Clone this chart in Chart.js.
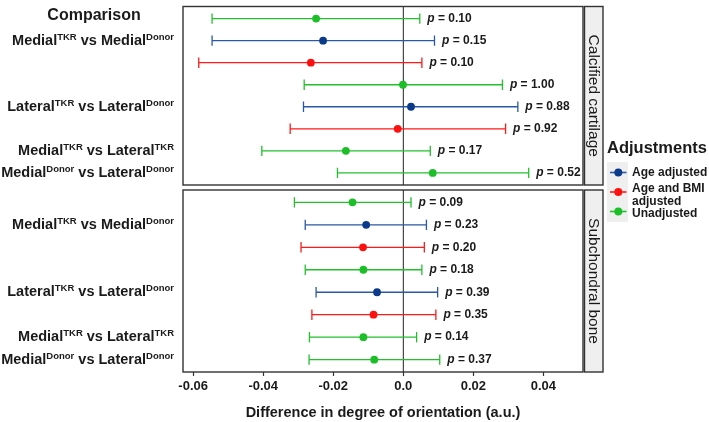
<!DOCTYPE html>
<html><head><meta charset="utf-8">
<script src="https://cdn.jsdelivr.net/npm/chart.js@4.4.1/dist/chart.umd.min.js"></script>
<style>
html,body{margin:0;padding:0;background:#fff;}
#wrap{position:relative;width:709px;height:422px;overflow:hidden;}
canvas{position:absolute;left:0;top:0;}
</style></head><body>
<div id="wrap"><canvas id="c1" width="709" height="422"></canvas><canvas id="c2" width="709" height="422"></canvas></div>
<script>
// ---------------- DATA ----------------
const adjustments = ['Age adjusted', 'Age and BMI adjusted', 'Unadjusted'];
const rowAdjustment = ['Unadjusted','Age adjusted','Age and BMI adjusted','Unadjusted','Age adjusted','Age and BMI adjusted','Unadjusted','Unadjusted'];
const panelNames = ['Calcified cartilage', 'Subchondral bone'];
const yHeader = 'Comparison';
const rowLabels = ['', 'Medial^{TKR} vs Medial^{Donor}', '', '', 'Lateral^{TKR} vs Lateral^{Donor}', '', 'Medial^{TKR} vs Lateral^{TKR}', 'Medial^{Donor} vs Lateral^{Donor}'];

const ccEstimate = [-0.0249, -0.0229, -0.0264, -0.0001, 0.0022, -0.0016, -0.0164, 0.0084];
const ccLower    = [-0.0546, -0.0546, -0.0584, -0.0283, -0.0285, -0.0323, -0.0404, -0.0188];
const ccUpper    = [ 0.0047,  0.0089,  0.0053,  0.0283,  0.0327,  0.0292,  0.0077,  0.0358];
const ccP        = ['0.10', '0.15', '0.10', '1.00', '0.88', '0.92', '0.17', '0.52'];

const sbEstimate = [-0.0145, -0.0106, -0.0115, -0.0114, -0.0075, -0.0085, -0.0114, -0.0083];
const sbLower    = [-0.0311, -0.0280, -0.0292, -0.0280, -0.0249, -0.0261, -0.0268, -0.0269];
const sbUpper    = [ 0.0022,  0.0066,  0.0060,  0.0053,  0.0098,  0.0093,  0.0038,  0.0104];
const sbP        = ['0.09', '0.23', '0.20', '0.18', '0.39', '0.35', '0.14', '0.37'];

const xTicks = [-0.06, -0.04, -0.02, 0, 0.02, 0.04];
const xTickLabels = ['-0.06', '-0.04', '-0.02', '0.0', '0.02', '0.04'];
const xTitle = 'Difference in degree of orientation (a.u.)';

// ---------------- STYLE ----------------
const FF = '"Liberation Sans", Arial, Helvetica, sans-serif';
const lineColor  = {'Age adjusted':'#2b58a3', 'Age and BMI adjusted':'#ff1a1a', 'Unadjusted':'#22c02c'};
const pointColor = {'Age adjusted':'#0c3a8a', 'Age and BMI adjusted':'#ff1010', 'Unadjusted':'#1cbf28'};
const TXT = '#1a1a1a';

function richParts(s){
  const parts=[]; const re=/\^\{([^}]*)\}/g; let last=0,m;
  while((m=re.exec(s))){
    if(m.index>last) parts.push({t:s.slice(last,m.index),sup:false});
    parts.push({t:m[1],sup:true}); last=re.lastIndex;
  }
  if(last<s.length) parts.push({t:s.slice(last),sup:false});
  return parts;
}
function drawRich(ctx, s, xRight, yBase){
  const parts=richParts(s);
  const fBase='bold 14.5px '+FF, fSup='bold 9.5px '+FF;
  let w=0;
  parts.forEach(p=>{ctx.font=p.sup?fSup:fBase; p.w=ctx.measureText(p.t).width; w+=p.w;});
  let x=xRight-w;
  ctx.textAlign='left'; ctx.textBaseline='alphabetic'; ctx.fillStyle=TXT;
  parts.forEach(p=>{ctx.font=p.sup?fSup:fBase; ctx.fillText(p.t,x,p.sup?yBase-4.8:yBase); x+=p.w;});
}
function wrapWords(ctx, text, maxW){
  const words=text.split(' '); const lines=[]; let cur='';
  words.forEach(w=>{const t=cur?cur+' '+w:w; if(cur && ctx.measureText(t).width>maxW){lines.push(cur); cur=w;} else cur=t;});
  if(cur) lines.push(cur); return lines;
}

function panelPlugin(panelIdx, upper, pvals, isFirst){
  return {
    id:'panel'+panelIdx,
    beforeDatasetsDraw(chart){
      const {ctx, chartArea:a, scales:{x}} = chart;
      ctx.save();
      const x0 = x.getPixelForValue(0);
      ctx.strokeStyle='#222'; ctx.lineWidth=1;
      ctx.beginPath(); ctx.moveTo(x0, a.top); ctx.lineTo(x0, a.bottom); ctx.stroke();
      ctx.restore();
    },
    afterDatasetsDraw(chart){
      const {ctx, chartArea:a, scales:{x,y}} = chart;
      ctx.save();
      ctx.strokeStyle='#333'; ctx.lineWidth=1.4;
      ctx.strokeRect(a.left, a.top, a.right-a.left, a.bottom-a.top);
      const sx=a.right+1.5, sw=18.5;
      ctx.fillStyle='#efefef'; ctx.fillRect(sx, a.top, sw, a.bottom-a.top);
      ctx.strokeRect(sx, a.top, sw, a.bottom-a.top);
      ctx.save();
      ctx.translate(sx+sw/2, (a.top+a.bottom)/2); ctx.rotate(Math.PI/2);
      ctx.fillStyle=TXT; ctx.font='15.5px '+FF; ctx.textAlign='center'; ctx.textBaseline='middle';
      ctx.fillText(panelNames[panelIdx], 0, 0);
      ctx.restore();
      pvals.forEach((p,i)=>{
        const px = x.getPixelForValue(upper[i]) + 7.5;
        const py = y.getPixelForValue(i+1);
        ctx.textAlign='left'; ctx.textBaseline='middle'; ctx.fillStyle=TXT;
        ctx.font='italic bold 12px '+FF; ctx.fillText('p', px, py);
        const w = ctx.measureText('p').width;
        ctx.font='bold 12px '+FF; ctx.fillText(' = '+p, px+w, py);
      });
      rowLabels.forEach((lab,i)=>{ if(lab) drawRich(ctx, lab, 174, y.getPixelForValue(i+1)+4); });
      if(isFirst){
        ctx.font='bold 16px '+FF; ctx.textAlign='center'; ctx.textBaseline='middle'; ctx.fillStyle=TXT;
        ctx.fillText(yHeader, 94, y.getPixelForValue(1)-3.5);
        ctx.textAlign='left';
        ctx.font='bold 16.5px '+FF; ctx.fillText('Adjustments', 607, 148);
        ctx.fillStyle='#efefef'; ctx.fillRect(607, 162, 21, 60);
        const keyY=[172.5, 192, 211.5];
        const textY=[172.5, 188.5, 214];
        ctx.font='bold 12px '+FF;
        adjustments.forEach((adj,k)=>{
          ctx.strokeStyle=lineColor[adj]; ctx.lineWidth=1.6;
          ctx.beginPath(); ctx.moveTo(610, keyY[k]); ctx.lineTo(626.5, keyY[k]); ctx.stroke();
          ctx.fillStyle=pointColor[adj]; ctx.beginPath(); ctx.arc(618.3, keyY[k], 4, 0, Math.PI*2); ctx.fill();
          ctx.fillStyle=TXT;
          const lines=wrapWords(ctx, adj, 78);
          lines.forEach((ln,j)=>ctx.fillText(ln, 632, textY[k]+j*13.3));
        });
      }
      ctx.restore();
    }
  };
}

function makeChart(id, panelIdx, est, lo, hi, pv, showX){
  const datasets=[];
  rowAdjustment.forEach((adj,i)=>{
    datasets.push({type:'line', order:1, label:adj,
      data:[{x:lo[i],y:i+1},{x:hi[i],y:i+1}],
      borderColor:lineColor[adj], borderWidth:1.3, fill:false, tension:0,
      pointStyle:'line', pointRotation:90, pointRadius:5.2, pointHoverRadius:5.2,
      pointBorderColor:lineColor[adj], pointBorderWidth:1.3});
  });
  datasets.push({type:'scatter', order:0, label:'estimate',
    data: est.map((v,i)=>({x:v,y:i+1})),
    pointBackgroundColor: rowAdjustment.map(a=>pointColor[a]),
    pointBorderWidth:0, pointRadius:3.9, pointHoverRadius:3.9});
  const xScale = {
    type:'linear', min:-0.0629, max:0.0513, display:showX,
    afterBuildTicks: s=>{ s.ticks = xTicks.map(v=>({value:v})); },
    ticks:{ callback:(v,i)=>xTickLabels[i], font:{family:FF,size:13,weight:'bold'}, color:TXT, padding:3, maxRotation:0, autoSkip:false },
    grid:{ drawOnChartArea:false, drawTicks:true, tickLength:4, tickColor:'#333', tickWidth:1.2 },
    border:{ display:false },
    title:{ display:true, text:xTitle, font:{family:FF,size:14.5,weight:'bold'}, color:TXT, padding:{top:0,bottom:0} }
  };
  if(showX) xScale.afterFit = s=>{ s.height = 50; };
  return new Chart(document.getElementById(id), {
    type:'scatter',
    data:{datasets},
    options:{
      responsive:false, animation:false, events:[],
      layout:{ padding: showX ? {left:183,right:126,top:190,bottom:0} : {left:183,right:126,top:3,bottom:237} },
      scales:{ x:xScale, y:{type:'linear', min:0.45, max:8.55, reverse:true, display:false} },
      plugins:{ legend:{display:false}, tooltip:{enabled:false} }
    },
    plugins:[panelPlugin(panelIdx, hi, pv, !showX)]
  });
}
makeChart('c1', 0, ccEstimate, ccLower, ccUpper, ccP, false);
makeChart('c2', 1, sbEstimate, sbLower, sbUpper, sbP, true);
</script>
</body></html>
